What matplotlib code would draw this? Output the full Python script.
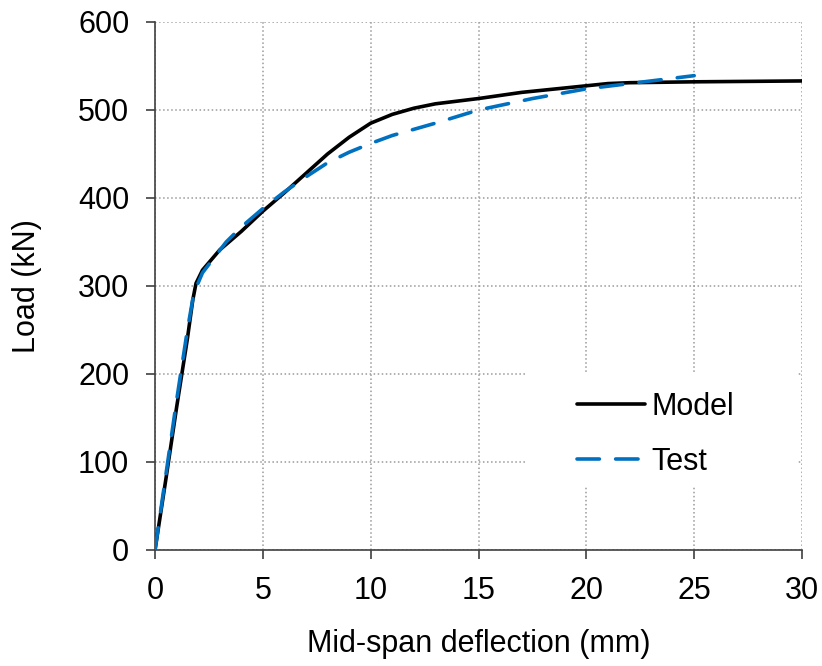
import matplotlib.pyplot as plt
from matplotlib.patches import Rectangle

# load-deflection data
model_x = [0, 0.5, 1.0, 1.5, 1.75, 1.9, 2.2, 3, 4, 5, 6, 7, 8, 9, 10, 11, 12, 13, 14, 15, 17, 19, 21, 22, 25, 30]
model_y = [0, 80, 162, 240, 284, 303, 318, 341, 362, 385, 406, 428, 450, 469, 485, 495, 502, 507, 510, 513, 520, 525, 530, 531, 532, 533]

test_x = [0, 0.5, 1.0, 1.5, 1.8, 2.2, 3.3, 4, 5, 6, 7, 8, 9, 10, 11, 12, 13, 15, 17.5, 20, 22, 25]
test_y = [0, 85, 170, 250, 292, 315, 350, 367, 388, 407, 424, 440, 452, 462, 471, 478, 485, 500, 513, 524, 530, 539]

plt.rcParams['font.family'] = ['Liberation Sans', 'DejaVu Sans']

fig = plt.figure(figsize=(8.22, 6.66), dpi=100)
ax = fig.add_axes([0.1886, 0.1742, 0.7871, 0.7928])

ax.plot(model_x, model_y, color='black', lw=2.6, label='Model', zorder=3,
        solid_capstyle='round', solid_joinstyle='round')
ln, = ax.plot(test_x, test_y, color='#0070C0', lw=2.6, label='Test', zorder=4,
              dash_capstyle='round')
ln.set_dashes([6.2, 4.5])

ax.set_xlim(0, 30)
ax.set_ylim(0, 600)
ax.set_xticks(range(0, 31, 5))
ax.set_yticks(range(0, 601, 100))
ax.grid(True, color='#9a9a9a', linestyle=':', lw=1.1)
ax.set_axisbelow(True)
for s in ['top', 'right']:
    ax.spines[s].set_visible(False)
for s in ['left', 'bottom']:
    ax.spines[s].set_color('#404040')
    ax.spines[s].set_linewidth(1.2)
ax.tick_params(direction='out', length=6.5, width=1.2, color='#404040', labelsize=22)
ax.tick_params(axis='x', pad=12)
ax.tick_params(axis='y', pad=12)

ax.set_xlabel('Mid-span deflection (mm)', fontsize=22, labelpad=17)
ax.set_ylabel('Load (kN)', fontsize=22, labelpad=26)

# white block behind the legend hides the grid, as in the original
ax.add_patch(Rectangle((0.572, 0.121), 0.42, 0.216, transform=ax.transAxes,
                       facecolor='white', edgecolor='none', zorder=2.5))

leg = ax.legend(loc='upper left', bbox_to_anchor=(0.634, 0.322), fontsize=22,
                frameon=False, handlelength=2.2, handletextpad=0.23,
                labelspacing=0.81, borderpad=0.4, borderaxespad=0)
leg.set_zorder(5)

fig.savefig('out.png', dpi=100)
